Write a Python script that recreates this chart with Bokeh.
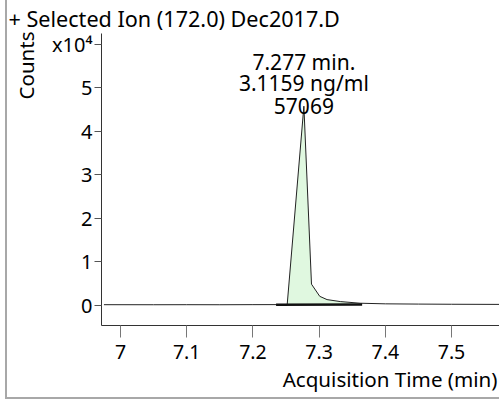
import numpy as np
from bokeh.plotting import figure
from bokeh.models import Label, FixedTicker, Range1d, Title
from bokeh.embed import file_html
from bokeh.resources import INLINE

# ---- chromatogram data -------------------------------------------------
title_text = "+ Selected Ion (172.0) Dec2017.D"
x_label = "Acquisition Time (min)"
y_label = "Counts"

time_min = [6.975, 7.05, 7.10, 7.15, 7.20, 7.235, 7.2518, 7.277, 7.2885,
            7.301, 7.312, 7.332, 7.362, 7.40, 7.45, 7.50, 7.5725]
counts = [180, 170, 180, 170, 190, 200, 220, 45800, 4900,
          2100, 1350, 900, 520, 380, 320, 280, 250]

# integration of the peak
baseline_time = [7.235, 7.365]
baseline_counts = [190, 210]
peak_rt = 7.277
peak_height = 45800
peak_conc = "3.1159 ng/ml"
peak_area = 57069

x_ticks = [7.0, 7.1, 7.2, 7.3, 7.4, 7.5]
x_tick_labels = ["7", "7.1", "7.2", "7.3", "7.4", "7.5"]
y_ticks = [0, 10000, 20000, 30000, 40000, 50000, 60000]
y_tick_labels = ["0", "1", "2", "3", "4", "5", "x10\u2074"]

# ---- layout constants --------------------------------------------------
W, H = 499, 401
FL, FT, FB = 101, 32, 325
FONT = "Noto Sans"
BORDER = "#a8a8a8"

p = figure(width=W, height=H, output_backend="svg", toolbar_location=None,
           title=None,
           x_range=Range1d(6.9713, 7.5725), y_range=Range1d(-4600, 62500),
           min_border_left=FL, min_border_right=0,
           min_border_top=FT, min_border_bottom=H - FB)
p.outline_line_color = None
p.grid.visible = False
p.background_fill_color = "white"
p.border_fill_color = None

# panel border (left and bottom edges) painted behind the canvas
p.styles = {
    "background": (f"linear-gradient({BORDER}, {BORDER}) 5px 0px / 2px 399px no-repeat, "
                   f"linear-gradient({BORDER}, {BORDER}) 5px 397px / 494px 2px no-repeat, "
                   "white"),
}

# peak area fill between the integration baseline and the signal
t = np.array(time_min)
c = np.array(counts)
mask = (t >= 7.2518) & (t <= baseline_time[1])
ft = np.concatenate([t[mask], [baseline_time[1]]])
fc = np.concatenate([c[mask], [np.interp(baseline_time[1], t, c)]])
fb = np.interp(ft, baseline_time, baseline_counts)
p.varea(x=ft, y1=fb, y2=fc, fill_color="#e0f8e0")

# signal trace and integration baseline
p.line(time_min, counts, line_color="#222222", line_width=1)
p.line(baseline_time, baseline_counts, line_color="#111111", line_width=2.5)

# ---- axes --------------------------------------------------------------
ax = p.xaxis[0]
ax.ticker = FixedTicker(ticks=x_ticks)
ax.major_label_overrides = {v: s for v, s in zip(x_ticks, x_tick_labels)}
ax.minor_tick_line_color = None
ax.major_tick_in = 0
ax.major_tick_out = 12
ax.major_tick_line_color = "#777777"
ax.axis_line_color = "#333333"
ax.major_label_standoff = 7
ax.major_label_text_font = FONT
ax.major_label_text_font_size = "19.5px"
ax.major_label_text_color = "black"

ay = p.yaxis[0]
ay.ticker = FixedTicker(ticks=y_ticks)
ay.major_label_overrides = {v: s for v, s in zip(y_ticks, y_tick_labels)}
ay.minor_tick_line_color = None
ay.major_tick_in = 0
ay.major_tick_out = 7
ay.major_tick_line_color = "#555555"
ay.axis_line_color = "#333333"
ay.major_label_standoff = 2
ay.major_label_text_font = FONT
ay.major_label_text_font_size = "20px"
ay.major_label_text_color = "black"

# ---- titles in the side panels ----------------------------------------
p.add_layout(Title(text=title_text, align="left", offset=-(FL - 8),
                   standoff=2, text_font=FONT, text_font_size="21.6px",
                   text_font_style="normal", text_color="black"), "above")
p.add_layout(Title(text=y_label, align="right", offset=-2, standoff=19,
                   text_font=FONT, text_font_size="20.5px",
                   text_font_style="normal", text_color="black"), "left")
p.add_layout(Title(text=x_label, align="right", offset=2, standoff=2,
                   text_font=FONT, text_font_size="20.6px",
                   text_font_style="normal", text_color="black"), "below")

# peak annotation: retention time, concentration, area
for off, txt in [(44, f"{peak_rt:.3f} min."), (23, peak_conc), (0, f"{peak_area}")]:
    p.add_layout(Label(x=peak_rt, y=peak_height, text=txt, y_offset=off,
                       text_align="center", text_baseline="alphabetic",
                       text_font=FONT, text_font_size="21px", text_color="black"))

open("out.html", "w").write(file_html(p, INLINE))
